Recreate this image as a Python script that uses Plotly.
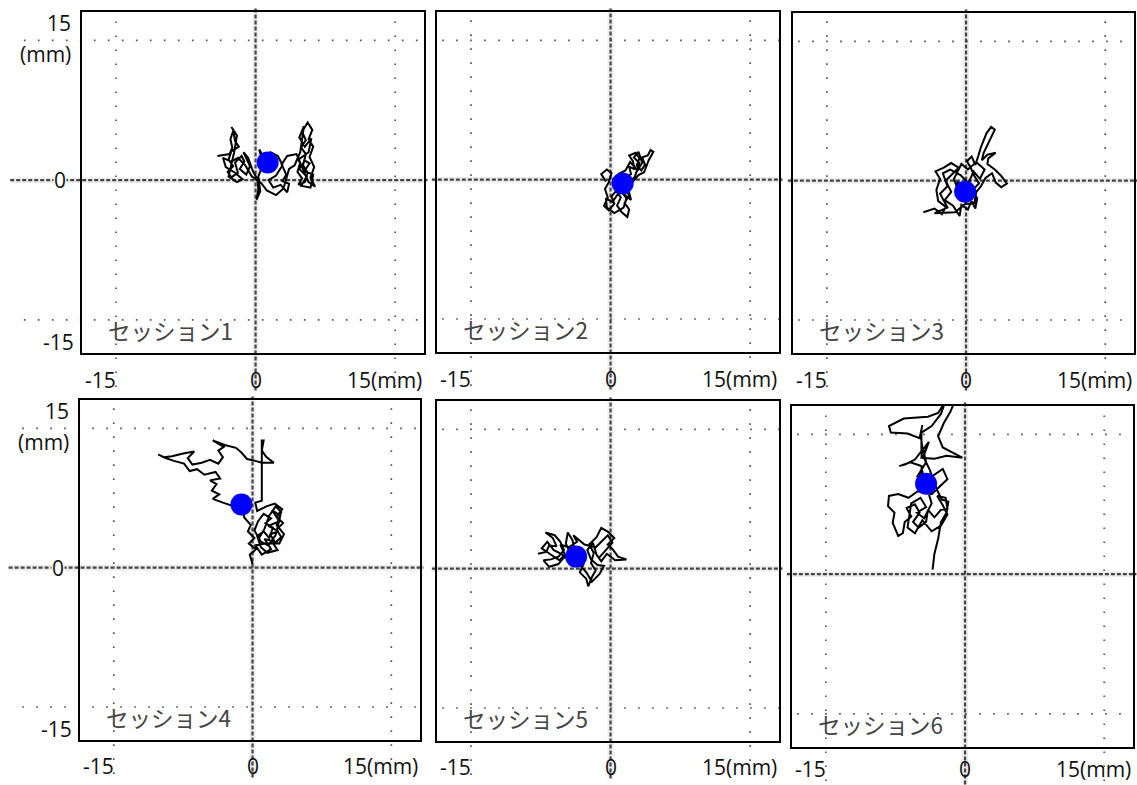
import plotly.graph_objects as go

# ---------------- data ----------------
session_labels = ["セッション1", "セッション2", "セッション3", "セッション4", "セッション5", "セッション6"]
grid_vals = [-15, 15]
x_tick_vals = [-15, 0]
x_tick_text = ["-15", "0"]
x_end_label = "15(mm)"
y_tick_text = {"top": "15", "unit": "(mm)", "zero": "0", "bottom": "-15"}

s1_x = [-4.1, -2.8, -2.5, -2.7, -2.4, -2.2, -1.8, -2.6, -2.9, -2.4, -3.0, -2.6, -1.9, -2.2, -1.5, -1.2, -1.7, -1.0, -0.6, -1.3, -0.8, -0.3, 0.2, 0.3, 0.1, 0.5, 0.3, 0.8, 0.4, 0.9, 1.6, 2.4, 2.9, 2.2, 1.4, 1.9, 2.7, 3.4, 3.6, 2.9, 3.3, 2.8, 3.4, 4.4, 4.8, 4.5, 5.0, 4.6, 5.3, 5.6, 5.1, 5.4, 4.9, 5.4, 5.0, 5.6, 6.1, 5.7, 6.2, 5.8, 6.3, 5.9, 6.4, 5.7, 5.2, 5.8, 5.3,
        4.7, 5.5, 4.9, 5.9, 6.2, 5.2, 4.6, 5.7, 6.0, 5.3, 4.7, 5.2, 4.8, 4.2, 3.6, 3.0, 2.2, 1.2, 0.6, -0.4, -1.1, -1.9, -2.6, -3.5, -3.2, -2.2, -1.4, -2.0, -2.9, -2.3, -2.0, -2.6]
s1_y = [2.6, 2.8, 3.5, 4.4, 5.3, 4.2, 3.6, 3.1, 2.2, 1.5, 0.9, 0.3, 0.8, 1.9, 2.6, 2.0, 1.2, 0.6, 1.5, 3.0, 2.4, 1.0, 0.1, -1.0, -2.1, -1.2, 0.4, 1.7, 3.3, 2.4, 3.0, 2.6, 1.6, 0.5, 0.0, -0.8, -0.5, -1.3, -0.4, -0.1, 0.6, 1.7, 2.6, 2.8, 1.9, 0.9, 0.2, -0.5, -0.2, 0.8, 1.6, 2.8, 3.5, 4.3, 5.2, 6.2, 5.4, 4.4, 3.6, 2.5, 1.4, 0.3, -0.7, -0.2, 0.9, 1.8, 2.1,
        1.2, 0.4, -0.6, -0.8, 0.6, 1.0, 2.2, 3.0, 4.5, 3.6, 4.6, 5.8, 3.0, 1.6, 1.2, -0.9, -1.6, -1.1, -0.3, 0.4, 1.6, 2.4, 2.0, 2.4, 1.4, 0.8, 0.1, -0.2, 0.4, 3.0, 4.8, 5.7]

s2_x = [-0.5, -1.0, -0.4, 0.1, -0.2, -0.6, -0.3, -0.7, -0.2, 0.4, 0.1, 0.6, 1.1, 0.7, 1.2, 1.8, 2.0, 1.5, 2.0, 1.6, 1.0, 1.6, 2.2, 2.0, 2.6, 2.4, 2.0, 2.7, 3.1, 2.8, 3.3, 3.7, 3.4, 4.0, 4.3, 4.6, 4.1, 3.6, 3.0, 2.4, 1.9, 2.2, 1.5, 0.8, 0.3,
        0.9, 0.2, -0.5, -0.4, 0.4, 1.4, 1.7, 1.1, 2.0, 2.6, 3.1, 2.5, 3.0, 3.4, 2.9, 2.1, 1.6, 0.8]
s2_y = [-0.2, 0.6, 1.1, 0.7, -0.3, -1.0, -1.9, -2.8, -3.3, -2.6, -1.8, -1.2, -1.9, -2.8, -3.5, -4.0, -3.2, -2.5, -1.7, -0.9, -0.5, 0.2, 0.6, 1.4, 1.1, 2.0, 2.6, 2.9, 2.3, 1.5, 1.0, 1.6, 2.4, 2.6, 3.2, 3.0, 2.1, 0.8, 0.5, -0.2, -1.0, -2.2, -1.6, -0.6, 0.2,
        -1.4, -2.4, -2.0, -3.0, -3.6, -3.0, -2.0, -1.2, -0.4, 0.3, 1.8, 2.4, 3.0, 1.8, 1.0, 1.9, 1.0, 0.6]

s3_x = [-4.6, -3.4, -2.6, -2.2, -3.0, -3.2, -2.8, -3.3, -2.4, -1.6, -0.8, -1.5, -2.2, -1.6, -2.3, -1.4, -0.7, -0.5, 0.2, 0.6, 1.0, 1.2, 0.7, 1.4, 0.9, 0.5, 0.1, 0.6, 1.0, 1.3, 1.6, 2.2, 2.7, 3.1, 2.6, 1.9, 1.7, 2.3, 3.2, 2.4, 2.3, 3.1, 3.8, 4.4, 3.8, 3.2, 2.8, 2.1, 1.6, 0.8, -0.2, -0.9, -1.1, -0.3, 0.5,
        -0.6, -1.7, -2.5, -2.0, -2.8, -2.0, -3.4, -1.2, -0.1, 0.9, 1.1, 0.3, 0.8, 1.5, 2.0, 1.1, 0.2, -0.5, -1.3, -0.8, 0.4]
s3_y = [-3.4, -3.0, -3.6, -2.8, -2.2, -1.0, 0.2, 1.0, 1.4, 1.9, 1.4, 0.7, 0.0, -1.2, -2.1, -2.7, -3.8, -2.6, -3.1, -2.2, -3.0, -1.9, -1.0, -0.3, 0.5, 1.4, 2.1, 2.6, 1.7, 2.6, 3.6, 5.1, 5.8, 5.5, 4.4, 3.0, 2.2, 2.8, 3.0, 2.4, 1.8, 1.2, 0.5, -0.3, -0.7, -0.2, 0.8, 0.3, -0.6, -1.6, -0.8, -0.1, -1.6, -2.0, -0.5,
        0.6, 1.2, 0.8, -0.6, -1.4, -2.9, -3.5, -3.4, -2.5, -2.4, -1.2, -0.2, 1.0, 0.2, 1.2, 2.0, 1.2, 1.8, 0.2, -1.2, -1.6]

s4_x = [0.0, -0.3, 0.4, -0.4, 0.2, -0.5, -0.2, -0.9, -1.0, -2.0, -3.2, -4.3, -3.6, -4.4, -3.9, -4.6, -3.5, -4.0, -5.2, -6.0, -6.8, -7.4, -8.5, -9.4, -10.2, -9.6, -8.7, -7.5, -6.3, -7.0, -6.5, -5.5, -4.6, -3.7, -3.2, -3.7, -3.1, -4.3, -3.0, -1.8, -1.2, -0.6, 0.3, 1.0, 2.3, 1.5, 1.0, 1.0, 1.2, 1.0, 1.0, 1.0, 1.0, 1.0, 0.3, 0.5, 1.5, 2.4, 3.2, 2.6, 3.3, 2.6, 3.1, 2.3, 2.7, 1.6, 0.9, 0.5, 1.2, 1.8, 2.2, 1.4, 2.0, 1.2, 0.6, 0.2, 0.9, 1.7, 2.5, 3.0, 2.1,
        2.9, 1.7, 2.8, 1.9, 2.4, 1.3, 2.0, 1.0, 0.3, 1.4, 2.9, 3.4, 2.6, 3.1, 2.5, 1.8, 1.3, 0.6]
s4_y = [0.4, 1.4, 2.0, 2.6, 3.2, 3.9, 4.6, 5.4, 6.1, 6.6, 7.0, 7.4, 7.9, 8.3, 9.0, 9.4, 9.6, 10.3, 10.0, 10.6, 10.4, 11.2, 11.5, 11.8, 12.2, 11.9, 12.0, 12.3, 12.5, 11.8, 11.1, 11.3, 11.6, 11.2, 11.9, 12.6, 13.0, 13.7, 13.2, 12.9, 12.4, 11.7, 11.5, 11.3, 11.3, 11.9, 12.6, 13.7, 13.7, 12.6, 11.3, 9.8, 8.3, 7.2, 7.0, 6.1, 6.6, 6.9, 6.3, 5.5, 4.8, 4.1, 3.3, 2.5, 1.9, 1.6, 2.2, 3.4, 3.9, 3.2, 4.3, 4.8, 5.3, 5.8, 5.0, 4.0, 2.8, 2.4, 3.5, 5.6, 6.2,
        5.0, 4.5, 3.9, 3.6, 2.8, 3.1, 2.0, 1.4, 2.4, 2.6, 2.6, 3.6, 4.6, 6.0, 6.6, 5.6, 4.2, 3.0]

s5_x = [-7.8, -6.9, -6.6, -5.8, -6.2, -7.0, -6.0, -5.4, -5.0, -5.6, -6.4, -7.2, -6.6, -5.6, -5.1, -4.4, -4.8, -4.6, -4.1, -3.9, -3.0, -2.9, -3.3, -2.6, -2.4, -2.0, -1.6, -2.1, -1.8, -2.3, -1.5, -1.0, -0.3, 0.4, -0.3, 0.3, 0.8, 1.7, 0.5, -0.4, -1.0, -1.5, -1.9, -2.5, -2.1, -1.4, -0.7,
        -1.2, -2.0, -2.6, -3.5, -4.5, -5.3, -6.1, -6.8, -7.4, -6.4, -5.5, -4.9, -5.4, -4.5, -3.6, -4.0, -2.8, -1.6, -0.9, -0.3, 0.2, -0.6, -1.3]
s5_y = [1.6, 1.8, 2.5, 2.4, 3.3, 3.9, 3.6, 2.9, 2.0, 1.3, 1.0, 0.9, 0.2, 0.5, 1.1, 1.8, 2.7, 3.9, 3.1, 2.2, 1.6, 0.5, -0.4, -1.1, -1.9, -0.9, -0.2, 0.6, 1.7, 2.6, 3.4, 4.4, 4.0, 3.3, 2.6, 2.0, 1.3, 1.0, 0.9, 1.6, 0.8, 1.5, 2.8, 2.0, 1.0, 0.4, 0.3,
        -0.6, -1.4, -0.4, 0.6, 0.9, 1.6, 2.0, 2.9, 2.2, 1.5, 0.9, 1.5, 2.6, 2.3, 2.9, 3.6, 2.6, 2.3, 3.0, 3.6, 2.8, 1.9, 1.1]

s6_x = [-1.0, -1.6, -2.3, -2.9, -2.4, -1.3, -0.3, -2.0, -3.3, -4.7, -4.6, -4.8, -4.6, -4.9, -6.2, -8.0, -8.2, -6.6, -4.0, -2.9, -2.1, -2.6, -3.6, -4.7, -4.7, -5.4, -6.4, -7.1, -5.9, -4.7, -4.6, -3.4, -2.4, -1.9, -2.8, -3.6, -5.1, -6.1, -7.2, -8.2, -8.3, -7.6, -7.8, -7.2, -6.7, -6.5, -5.8, -6.3, -5.4, -4.9, -5.6, -5.0, -4.2, -4.0, -3.3, -2.6, -1.9, -2.1, -3.0, -2.4, -1.9, -2.6,
        -3.6, -4.6, -5.4, -6.2, -5.8, -4.8, -4.2, -5.2, -4.4, -3.6, -4.2, -4.6, -5.2, -4.2, -4.5, -3.9, -4.5, -3.8, -3.1, -2.5, -1.8, -2.0, -2.6,
        -2.9, -3.3, -3.5]
s6_y = [18.8, 17.4, 16.2, 14.8, 13.6, 13.0, 12.5, 12.7, 12.4, 12.5, 13.6, 15.0, 16.0, 14.6, 15.1, 15.2, 15.9, 16.7, 16.9, 17.3, 18.6, 17.2, 15.9, 15.2, 13.2, 12.3, 11.8, 11.6, 12.0, 11.6, 10.4, 10.6, 11.3, 10.2, 9.3, 8.6, 8.9, 8.2, 8.6, 8.4, 7.3, 6.6, 5.5, 4.1, 4.4, 5.6, 6.2, 7.1, 7.5, 6.6, 5.6, 5.0, 5.6, 6.9, 6.1, 6.9, 7.0, 8.2, 8.4, 7.4, 6.4, 5.2,
        4.6, 5.8, 4.4, 5.0, 7.6, 8.2, 7.2, 6.6, 6.0, 7.6, 9.6, 11.0, 10.4, 12.0, 13.4, 14.2, 12.6, 11.2, 9.2, 8.0, 7.8, 6.6, 5.6,
        3.8, 2.2, 0.5]

center_x = [1.3, 1.3, -0.1, -1.2, -3.7, -4.2]
center_y = [1.9, -0.4, -1.2, 6.8, 1.3, 9.7]

traces_x = [s1_x, s2_x, s3_x, s4_x, s5_x, s6_x]
traces_y = [s1_y, s2_y, s3_y, s4_y, s5_y, s6_y]

# ---------------- layout geometry (pixels in a 1137x785 page) ----------------
W, H = 1137, 785
boxes = [(82, 12, 424, 353), (437, 12, 779, 352), (793, 13, 1134, 353),
         (80, 400, 420, 740), (437, 401, 779, 741), (792, 406, 1133, 747)]
x_label_shift = [-27, -27, -27, -26, -26, -22]
X_RANGE = [-18.65, 18.1]
Y_RANGE = [-18.55, 18.05]

FONT = "Open Sans, Lato, sans-serif"
JP_FONT = "Noto Sans CJK JP"

fig = go.Figure()
shapes = []
annotations = []

for i in range(6):
    n = "" if i == 0 else str(i + 1)
    xa, ya = "x" + n, "y" + n
    L, T, R, B = boxes[i]
    col = i % 3

    fig.add_trace(go.Scatter(x=traces_x[i], y=traces_y[i], mode="lines",
                             line=dict(color="black", width=2),
                             xaxis=xa, yaxis=ya, showlegend=False, hoverinfo="skip"))
    fig.add_trace(go.Scatter(x=[center_x[i]], y=[center_y[i]], mode="markers",
                             marker=dict(color="#0000ff", size=22, line=dict(width=0)),
                             xaxis=xa, yaxis=ya, showlegend=False))

    axis_common = dict(showgrid=False, zeroline=False, showticklabels=False, ticks="",
                       showline=True, mirror=True, linecolor="black", linewidth=2,
                       fixedrange=True)
    fig.layout["xaxis" + n] = dict(domain=[L / W, R / W], range=X_RANGE,
                                   anchor=ya, **axis_common)
    fig.layout["yaxis" + n] = dict(domain=[1 - B / H, 1 - T / H], range=Y_RANGE,
                                   anchor=xa, **axis_common)

    # dotted grid lines at +-15
    hx0 = -0.17 if col == 0 else 0.015
    for g in grid_vals:
        shapes.append(dict(type="line", xref=xa, yref=ya + " domain", x0=g, x1=g,
                           y0=-0.1, y1=1.0, layer="below",
                           line=dict(color="#555", width=1.7, dash="1.7px,12.3px")))
        shapes.append(dict(type="line", xref=xa + " domain", yref=ya, x0=hx0, x1=1.0,
                           y0=g, y1=g, layer="below",
                           line=dict(color="#555", width=1.7, dash="1.7px,12.3px")))
    # dashed zero lines (with a faint halo)
    zx0 = -0.21 if col == 0 else -0.015
    for w, c, d in [(6, "rgba(0,0,0,0.07)", "solid"), (2.2, "#444", "4px,2px")]:
        shapes.append(dict(type="line", xref=xa, yref=ya + " domain", x0=0, x1=0,
                           y0=-0.11, y1=1.01, layer="below", line=dict(color=c, width=w, dash=d)))
        shapes.append(dict(type="line", xref=xa + " domain", yref=ya, x0=zx0, x1=1.01,
                           y0=0, y1=0, layer="below", line=dict(color=c, width=w, dash=d)))

    # x tick labels
    tf = dict(family=FONT, size=21, color="#111")
    ys = x_label_shift[i]
    annotations.append(dict(xref=xa, yref=ya + " domain", x=x_tick_vals[0], y=0,
                            xanchor="right", yanchor="middle", yshift=ys, xshift=1,
                            borderpad=0, text=x_tick_text[0], showarrow=False, font=tf))
    annotations.append(dict(xref=xa, yref=ya + " domain", x=x_tick_vals[1], y=0,
                            xanchor="center", yanchor="middle", yshift=ys,
                            borderpad=0, text=x_tick_text[1], showarrow=False, font=tf))
    annotations.append(dict(xref=xa + " domain", yref=ya + " domain", x=0.997, y=0,
                            xanchor="right", yanchor="middle", yshift=ys,
                            borderpad=0, text=x_end_label, showarrow=False, font=tf))
    # y tick labels (left column only)
    if col == 0:
        annotations.append(dict(xref=xa + " domain", yref=ya, x=-0.028, y=15,
                                xanchor="right", yanchor="middle", yshift=17, borderpad=0,
                                text=y_tick_text["top"], showarrow=False, font=tf))
        annotations.append(dict(xref=xa + " domain", yref=ya, x=-0.028, y=15,
                                xanchor="right", yanchor="middle", yshift=-14, borderpad=0,
                                text=y_tick_text["unit"], showarrow=False, font=tf))
        annotations.append(dict(xref=xa + " domain", yref=ya, x=-0.044, y=0,
                                xanchor="right", yanchor="middle", borderpad=0,
                                text=y_tick_text["zero"], showarrow=False, font=tf,
                                bgcolor="white"))
        annotations.append(dict(xref=xa + " domain", yref=ya, x=-0.02, y=-15,
                                xanchor="right", yanchor="middle", yshift=-22, borderpad=0,
                                text=y_tick_text["bottom"], showarrow=False, font=tf))
    # session label
    annotations.append(dict(xref=xa, yref=ya, x=-16.1, y=-16.1, xanchor="left",
                            yanchor="middle", text=session_labels[i], showarrow=False,
                            font=dict(family=JP_FONT, size=22.5, color="#444")))

fig.update_layout(width=W, height=H, margin=dict(l=0, r=0, t=0, b=0),
                  paper_bgcolor="white", plot_bgcolor="white",
                  shapes=shapes, annotations=annotations, showlegend=False)

fig.write_html("out.html", config={"displayModeBar": False})
